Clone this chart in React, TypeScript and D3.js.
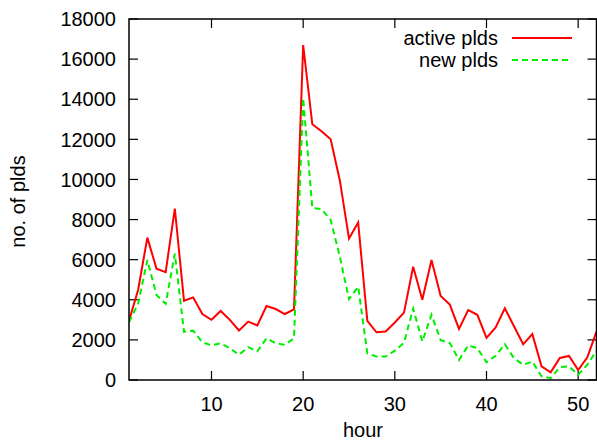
import React from "react";
import * as d3 from "d3";

const hours = d3.range(1, 53);
const activePlds = [
  2950, 4500, 7100, 5550, 5380, 8550, 3950, 4120, 3290, 3000,
  3440, 3000, 2470, 2910, 2720, 3690, 3540, 3290, 3520, 16700,
  12750, 12400, 12000, 9950, 7050, 7850, 2950, 2380, 2420, 2870,
  3360, 5650, 4000, 5980, 4190, 3760, 2550, 3490, 3250, 2100,
  2620, 3580, 2680, 1780, 2290, 680, 380, 1100, 1200, 500,
  1130, 2410,
];
const newPlds = [
  2880, 3820, 5980, 4240, 3800, 6300, 2400, 2460, 1880, 1730,
  1830, 1580, 1260, 1640, 1430, 2080, 1830, 1750, 2080, 14050,
  8580, 8520, 7980, 6150, 4030, 4650, 1330, 1170, 1170, 1460,
  1860, 3560, 1920, 3250, 1990, 1840, 1000, 1720, 1590, 880,
  1210, 1780, 1090, 760, 920, 180, 90, 640, 680, 260,
  760, 1460,
];
const xTicks = [10, 20, 30, 40, 50];
const yTicks = d3.range(0, 18001, 2000);
const seriesNames = ["active plds", "new plds"];

const W = 597;
const H = 442;
const left = 129;
const right = 596.5;
const top = 19;
const bottom = 380;
const font = "'Liberation Sans', Arial, Helvetica, sans-serif";
const fs = 20;

export default function App() {
  const x = d3.scaleLinear().domain([1, 52]).range([left, right]);
  const y = d3.scaleLinear().domain([0, 18000]).range([bottom, top]);
  const line = d3
    .line<number>()
    .x((_, i) => x(hours[i]))
    .y((d) => y(d));
  const tl = 9;
  return (
    <svg
      width={W}
      height={H}
      style={{ position: "absolute", left: 0, top: 0, background: "#fff" }}
      fontFamily={font}
    >
      <defs>
        <clipPath id="plot">
          <rect x={left} y={top} width={right - left} height={bottom - top} />
        </clipPath>
      </defs>
      {yTicks.map((t) => (
        <g key={"y" + t}>
          <line x1={left} x2={left + tl} y1={y(t)} y2={y(t)} stroke="#000" strokeWidth={1.2} />
          <line x1={right - tl} x2={right} y1={y(t)} y2={y(t)} stroke="#000" strokeWidth={1.2} />
          <text x={116} y={y(t)} dy="0.36em" textAnchor="end" fontSize={fs} fill="#000">
            {t}
          </text>
        </g>
      ))}
      {xTicks.map((t) => (
        <g key={"x" + t}>
          <line x1={x(t)} x2={x(t)} y1={bottom} y2={bottom - tl} stroke="#000" strokeWidth={1.2} />
          <line x1={x(t)} x2={x(t)} y1={top} y2={top + tl} stroke="#000" strokeWidth={1.2} />
          <text x={x(t)} y={411} textAnchor="middle" fontSize={fs} fill="#000">
            {t}
          </text>
        </g>
      ))}
      <g clipPath="url(#plot)">
        <path d={line(activePlds) || ""} fill="none" stroke="#ff0000" strokeWidth={2} />
        <path
          d={line(newPlds) || ""}
          fill="none"
          stroke="#00ee00"
          strokeWidth={2}
          strokeDasharray="6,4"
        />
      </g>
      <rect
        x={left}
        y={top}
        width={right - left}
        height={bottom - top}
        fill="none"
        stroke="#000"
        strokeWidth={1.5}
      />
      <text x={498} y={38} dy="0.36em" textAnchor="end" fontSize={fs} fill="#000">
        {seriesNames[0]}
      </text>
      <line x1={512} x2={572} y1={38} y2={38} stroke="#ff0000" strokeWidth={2} />
      <text x={498} y={60} dy="0.36em" textAnchor="end" fontSize={fs} fill="#000">
        {seriesNames[1]}
      </text>
      <line x1={512} x2={572} y1={60} y2={60} stroke="#00ee00" strokeWidth={2} strokeDasharray="6,4" />
      <text x={363} y={437} textAnchor="middle" fontSize={fs} fill="#000">
        hour
      </text>
      <text
        transform={`translate(25,${(top + bottom) / 2 + 2}) rotate(-90)`}
        textAnchor="middle"
        fontSize={fs}
        fill="#000"
      >
        no. of plds
      </text>
    </svg>
  );
}
